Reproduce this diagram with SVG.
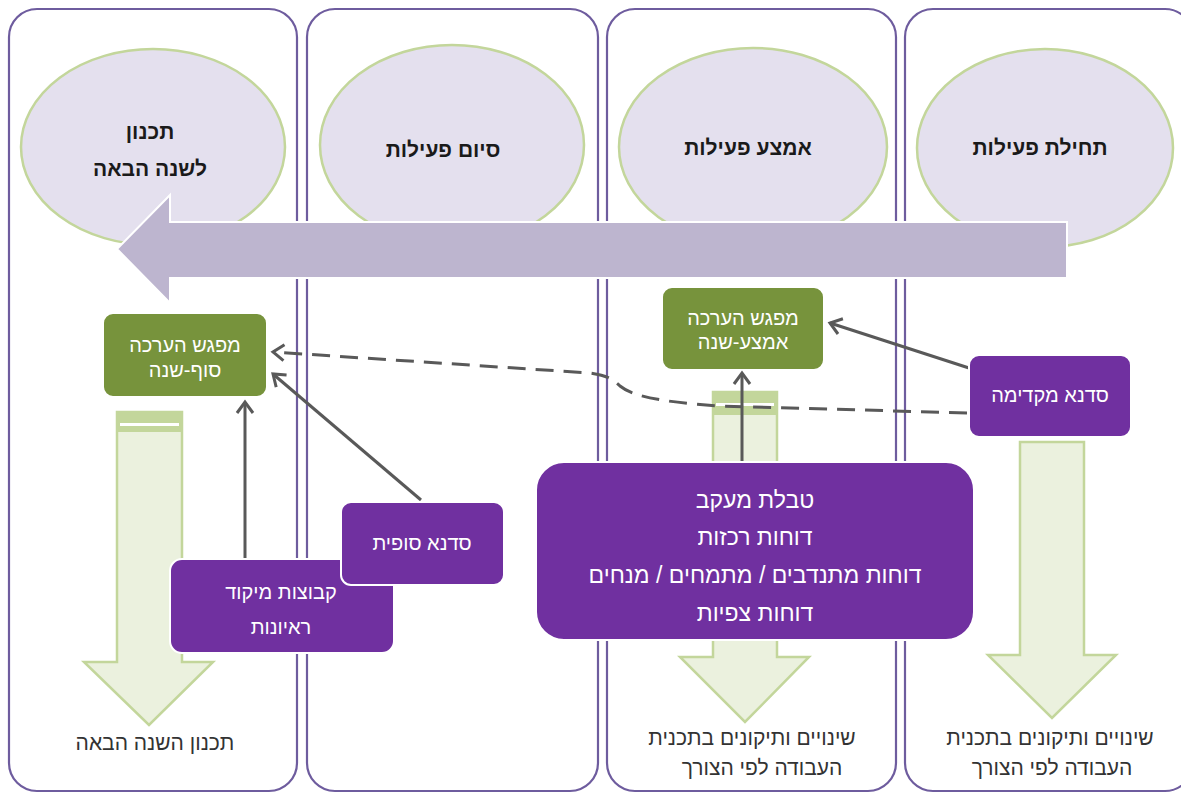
<svg xmlns="http://www.w3.org/2000/svg" width="1181" height="794" viewBox="0 0 1181 794">
<style>
.col{fill:#ffffff;stroke:#6e5c9e;stroke-width:2.2}
.ell{fill:#e4e0ee;stroke:#c3d69b;stroke-width:2.5}
.title{font-family:"Liberation Sans","DejaVu Sans",sans-serif;font-weight:bold;font-size:21px;fill:#1a1a1a;text-anchor:middle}
.gbox{fill:#77933c;stroke:#ffffff;stroke-width:2}
.pbox{fill:#7030a0;stroke:#ffffff;stroke-width:2}
.wt{font-family:"Liberation Sans","DejaVu Sans",sans-serif;font-size:20px;fill:#ffffff;text-anchor:middle}
.big{font-size:23px}
.bt{font-family:"Liberation Sans","DejaVu Sans",sans-serif;font-size:21px;fill:#333333;text-anchor:middle}
.garr{fill:#ebf1de;stroke:#c3d69b;stroke-width:2.5}
.band{fill:#c3d69b;stroke:none}
.con{fill:none;stroke:#595959;stroke-width:3}
.dash{stroke-dasharray:18 10}
</style>
<defs>
<marker id="ah" markerUnits="userSpaceOnUse" markerWidth="20" markerHeight="20" refX="14" refY="10" orient="auto">
<path d="M3,2 L14,10 L3,18" fill="none" stroke="#595959" stroke-width="3"/>
</marker>
</defs>
<rect width="1181" height="794" fill="#ffffff"/>
<g id="columns">
<rect id="col-a" class="col" x="9" y="9" width="288" height="782" rx="28"/>
<rect id="col-b" class="col" x="307" y="9" width="291" height="782" rx="28"/>
<rect id="col-c" class="col" x="607" y="9" width="289" height="782" rx="28"/>
<rect id="col-d" class="col" x="905" y="9" width="288" height="782" rx="28"/>
</g>
<g id="phase-plan">
<ellipse class="ell" cx="153" cy="147" rx="132" ry="98"/>
<text class="title" x="150" y="139" direction="rtl">תכנון</text>
<text class="title" x="150" y="176" direction="rtl">לשנה הבאה</text>
</g>
<g id="phase-end">
<ellipse class="ell" cx="452" cy="145" rx="132" ry="100"/>
<text class="title" x="443" y="157" direction="rtl">סיום פעילות</text>
</g>
<g id="phase-mid">
<ellipse class="ell" cx="753" cy="147" rx="134" ry="99"/>
<text class="title" x="748" y="155" direction="rtl">אמצע פעילות</text>
</g>
<g id="phase-start">
<ellipse class="ell" cx="1045" cy="148" rx="128" ry="99"/>
<text class="title" x="1040" y="155" direction="rtl">תחילת פעילות</text>
</g>
<g id="timeline-arrow">
<path d="M1067,222 L170,222 L170,195 L117,249 L170,303 L170,278 L1067,278 Z" fill="#bdb5cf" stroke="#ffffff" stroke-width="2"/>
</g>
<g id="down-arrow-a">
<path class="garr" d="M117,412 L182,412 L182,662 L213,662 L149,725 L84,662 L117,662 Z"/>
<rect class="band" x="118" y="413" width="63" height="19"/>
<rect x="120" y="423" width="59" height="3" fill="#ffffff"/>
</g>
<g id="down-arrow-c">
<path class="garr" d="M713,392 L777,392 L777,657 L809,657 L745,722 L680,657 L713,657 Z"/>
<rect class="band" x="714" y="393" width="62" height="22"/>
<rect x="716" y="403" width="58" height="3" fill="#ffffff"/>
</g>
<g id="down-arrow-d">
<path class="garr" d="M1020,442 L1084,442 L1084,655 L1116,655 L1052,718 L988,655 L1020,655 Z"/>
</g>
<g id="eval-end">
<rect class="gbox" x="103" y="313" width="164" height="84" rx="10"/>
<text class="wt" x="185" y="352" direction="rtl">מפגש הערכה</text>
<text class="wt" x="185" y="377" direction="rtl">סוף-שנה</text>
</g>
<g id="eval-mid">
<rect class="gbox" x="662" y="287" width="162" height="83" rx="10"/>
<text class="wt" x="743" y="325" direction="rtl">מפגש הערכה</text>
<text class="wt" x="743" y="349" direction="rtl">אמצע-שנה</text>
</g>
<g id="connectors">
<path class="con dash" d="M967,413 L720,406 C660,402 632,396 620,386 C612,378 604,375 590,373 L273,352" marker-end="url(#ah)"/>
<path class="con" d="M245,559 L245,402" marker-end="url(#ah)"/>
<path class="con" d="M421,500 L273,374" marker-end="url(#ah)"/>
<path class="con" d="M969,368 L830,323" marker-end="url(#ah)"/>
<path class="con" d="M742,463 L742,373" marker-end="url(#ah)"/>
</g>
<g id="workshop-pre">
<rect class="pbox" x="969" y="355" width="162" height="82" rx="10"/>
<text class="wt" x="1050" y="402" direction="rtl">סדנא מקדימה</text>
</g>
<g id="monitoring">
<rect class="pbox" x="536" y="462" width="438" height="178" rx="28"/>
<text class="wt big" x="755" y="508" direction="rtl">טבלת מעקב</text>
<text class="wt big" x="755" y="545" direction="rtl">דוחות רכזות</text>
<text class="wt big" x="755" y="583" direction="rtl">דוחות  מתנדבים / מתמחים / מנחים</text>
<text class="wt big" x="755" y="621" direction="rtl">דוחות צפיות</text>
</g>
<g id="focus-groups">
<rect class="pbox" x="170" y="559" width="224" height="94" rx="12"/>
<text class="wt" x="281" y="599" direction="rtl">קבוצות מיקוד</text>
<text class="wt" x="281" y="634" direction="rtl">ראיונות</text>
</g>
<g id="workshop-final">
<rect class="pbox" x="341" y="502" width="163" height="83" rx="10"/>
<text class="wt" x="422" y="550" direction="rtl">סדנא סופית</text>
</g>
<g id="outcomes">
<text class="bt" x="155" y="750" direction="rtl">תכנון השנה הבאה</text>
<text class="bt" x="752" y="745" font-size="22" direction="rtl">שינויים ותיקונים בתכנית</text>
<text class="bt" x="762" y="775" font-size="22" direction="rtl">העבודה לפי הצורך</text>
<text class="bt" x="1050" y="745" font-size="22" direction="rtl">שינויים ותיקונים בתכנית</text>
<text class="bt" x="1052" y="775" font-size="22" direction="rtl">העבודה לפי הצורך</text>
</g>
</svg>
